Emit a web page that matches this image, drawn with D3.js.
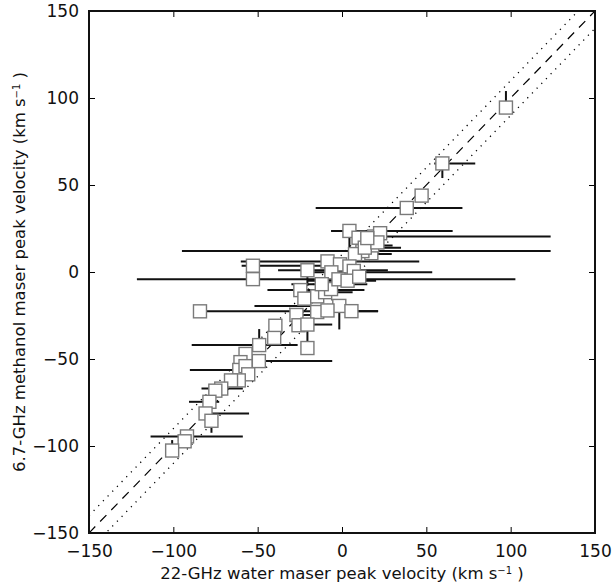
<!DOCTYPE html>
<html>
<head>
<meta charset="utf-8">
<script src="https://cdn.jsdelivr.net/npm/d3@7"></script>
<style>
  body { margin: 0; background: #fff; }
  text { font-family: "DejaVu Sans", sans-serif; }
</style>
</head>
<body>
<svg id="chart" width="615" height="583"></svg>
<script>
// 22-GHz water peak velocity (x) and 6.7-GHz methanol peak velocity (y), km/s
var waterVel = [97.2, 59.5, 47.2, 38.4, 4.4, 9.8, 19.0, 22.6, 17.4, 12.1, 7.7, -8.6, -1.2, 4.4, 7.0,
  -52.8, -52.8, -20.5, -24.7, -22.3, -14.7, -10.0, -6.5, -6.3, -2.1, 3.3, 10.2, -1.6, -14.7, -8.6,
  5.6, -84.2, -27.0, -25.8, -20.5, -39.5, -40.2, -20.5, -49.1, -49.3, -57.2, -60.2, -60.9, -57.2,
  -55.6, -61.2, -65.8, -71.6, -75.1, -78.6, -80.9, -77.4, -91.9, -93.3, -100.7, 17.9, 13.5, 21.0, 15.0, -12.0];
var methVel = [94.5, 62.4, 43.9, 36.8, 23.6, 19.7, 20.4, 22.3, 10.8, 12.0, 10.3, 6.1, 4.4, 3.2, 0.6,
  3.6, -4.1, 1.0, -10.4, -15.3, -14.0, -11.6, -9.8, -0.2, -4.2, -5.0, -2.7, -19.5, -23.0, -22.1,
  -22.5, -22.6, -24.7, -30.6, -30.2, -30.9, -37.9, -43.7, -42.0, -51.2, -47.1, -51.8, -56.3, -54.1,
  -58.8, -62.3, -62.3, -67.0, -68.2, -74.6, -81.3, -85.5, -94.5, -97.3, -102.6, 15.3, 14.0, 17.0, 19.5, -7.0];
// error bar ends (absolute velocities); equal to the value where no bar is drawn
var waterLo = [97.2, 54.7, 47.2, -15.6, -6.5, 9.8, 5.0, 22.6, 17.4, -94.9, 5.6, -60.0, -1.2, 4.4, 7.0,
  -59.5, -121.6, -37.9, -44.2, -22.3, -14.7, -28.6, -6.5, -21.6, -2.1, -20.5, 10.2, -51.9, -14.7, -8.6,
  5.6, -87.4, -29.8, -25.8, -23.3, -39.5, -40.2, -20.5, -89.1, -54.2, -57.2, -60.2, -90.2, -57.2,
  -55.6, -61.2, -65.8, -83.3, -75.1, -90.7, -83.7, -77.4, -113.5, -93.3, -100.7, 10.0, 8.0, 18.0, 12.0, -30.0];
var waterHi = [97.2, 79.0, 47.2, 71.4, 65.6, 9.8, 123.7, 22.6, 17.4, 123.7, 29.5, 45.8, -1.2, 4.4, 7.0,
  6.3, 102.8, 27.2, 13.3, -22.3, -14.7, 6.3, -6.5, 53.5, -2.1, 20.2, 10.2, 1.6, -14.7, -8.6,
  21.4, 21.4, -7.7, -25.8, -5.8, -39.5, -40.2, -20.5, -26.3, -5.8, -57.2, -60.2, -53.0, -57.2,
  -55.6, -61.2, -65.8, -58.8, -75.1, -72.8, -55.1, -77.4, -58.8, -93.3, -100.7, 30.0, 35.0, 23.0, 20.0, 15.0];
var methLo = [94.5, 54.0, 43.9, 36.8, 11.0, 19.7, 20.4, 22.3, 10.8, 12.0, 10.3, 6.1, 4.4, 3.2, 0.6,
  3.6, -4.1, -8.0, -10.4, -15.3, -14.0, -11.6, -9.8, -0.2, -4.2, -5.0, -2.7, -33.0, -23.0, -22.1,
  -22.5, -22.6, -24.7, -30.6, -41.0, -30.9, -37.9, -43.7, -42.0, -51.2, -47.1, -51.8, -56.3, -54.1,
  -58.8, -62.3, -62.3, -67.0, -68.2, -74.6, -81.3, -92.4, -94.5, -97.3, -102.6, 15.3, 14.0, 17.0, 19.5, -7.0];
var methHi = [104.0, 62.4, 43.9, 36.8, 23.6, 19.7, 20.4, 22.3, 10.8, 12.0, 10.3, 6.1, 4.4, 3.2, 0.6,
  3.6, -4.1, 1.0, -10.4, -15.3, -14.0, -11.6, -9.8, -0.2, -4.2, -5.0, -2.7, -19.5, -23.0, -22.1,
  -22.5, -22.6, -24.7, -30.6, -30.2, -30.9, -37.9, -43.7, -32.8, -51.2, -47.1, -51.8, -56.3, -54.1,
  -58.8, -62.3, -62.3, -67.0, -68.2, -74.6, -81.3, -85.5, -94.5, -97.3, -96.6, 15.3, 14.0, 17.0, 19.5, -7.0];
var tickVals = [-150, -100, -50, 0, 50, 100, 150];
var lineOffsets = [0, -10, 10]; // y = x and y = x +/- 10 km/s

var svg = d3.select("#chart");
var margin = { top: 11, left: 89 };

var x = d3.scaleLinear().domain([-150, 150]).range([margin.left, 595]);
var y = d3.scaleLinear().domain([-150, 150]).range([533, margin.top]);

svg.append("defs").append("clipPath").attr("id", "clip")
  .append("rect")
  .attr("x", x(-150)).attr("y", y(150))
  .attr("width", x(150) - x(-150)).attr("height", y(-150) - y(150));

var plot = svg.append("g").attr("clip-path", "url(#clip)");

// reference lines
lineOffsets.forEach(function (off) {
  plot.append("line")
    .attr("x1", x(-150)).attr("y1", y(-150 + off))
    .attr("x2", x(150)).attr("y2", y(150 + off))
    .attr("stroke", "#000")
    .attr("stroke-width", off === 0 ? 1.2 : 1.3)
    .attr("stroke-dasharray", off === 0 ? "9,7" : "1.2,5.5");
});

var data = waterVel.map(function (v, i) {
  return { x: v, y: methVel[i], xlo: waterLo[i], xhi: waterHi[i], ylo: methLo[i], yhi: methHi[i] };
});

// error bars
plot.append("g").selectAll("line")
  .data(data.filter(function (d) { return d.xhi > d.xlo; }))
  .enter().append("line")
  .attr("x1", function (d) { return x(d.xlo); })
  .attr("x2", function (d) { return x(d.xhi); })
  .attr("y1", function (d) { return y(d.y); })
  .attr("y2", function (d) { return y(d.y); })
  .attr("stroke", "#111").attr("stroke-width", 2);

plot.append("g").selectAll("line")
  .data(data.filter(function (d) { return d.yhi > d.ylo; }))
  .enter().append("line")
  .attr("x1", function (d) { return x(d.x); })
  .attr("x2", function (d) { return x(d.x); })
  .attr("y1", function (d) { return y(d.ylo); })
  .attr("y2", function (d) { return y(d.yhi); })
  .attr("stroke", "#111").attr("stroke-width", 2);

// markers
var s = 13;
plot.append("g").selectAll("rect")
  .data(data)
  .enter().append("rect")
  .attr("x", function (d) { return x(d.x) - s / 2; })
  .attr("y", function (d) { return y(d.y) - s / 2; })
  .attr("width", s).attr("height", s)
  .attr("fill", "#fff")
  .attr("stroke", "#7a7a7a")
  .attr("stroke-width", 1.4);

// axes with inward ticks on all four sides
var fmt = function (d) { return d < 0 ? "\u2212" + Math.abs(d) : d; };
function styleAxis(g) {
  g.select(".domain").remove();
  g.selectAll("line").attr("stroke", "#000").attr("stroke-width", 1);
  g.selectAll("text").attr("font-size", 17).attr("fill", "#111");
}
svg.append("g").attr("transform", "translate(0," + y(-150) + ")")
  .call(d3.axisBottom(x).tickValues(tickVals).tickFormat(fmt).tickSizeInner(-6).tickPadding(12))
  .call(styleAxis);
svg.append("g").attr("transform", "translate(" + x(-150) + ",0)")
  .call(d3.axisLeft(y).tickValues(tickVals).tickFormat(fmt).tickSizeInner(-6).tickPadding(10))
  .call(styleAxis);
svg.append("g").attr("transform", "translate(0," + y(150) + ")")
  .call(d3.axisTop(x).tickValues(tickVals).tickFormat("").tickSizeInner(-6))
  .call(styleAxis);
svg.append("g").attr("transform", "translate(" + x(150) + ",0)")
  .call(d3.axisRight(y).tickValues(tickVals).tickFormat("").tickSizeInner(-6))
  .call(styleAxis);

svg.append("rect")
  .attr("x", x(-150)).attr("y", y(150))
  .attr("width", x(150) - x(-150)).attr("height", y(-150) - y(150))
  .attr("fill", "none").attr("stroke", "#111").attr("stroke-width", 2);

// axis titles
var xt = svg.append("text")
  .attr("x", (x(-150) + x(150)) / 2).attr("y", 579)
  .attr("text-anchor", "middle").attr("font-size", 16.5).attr("fill", "#111");
xt.append("tspan").text("22-GHz water maser peak velocity (km s");
xt.append("tspan").attr("dy", -5.5).attr("font-size", 10).text("\u22121");
xt.append("tspan").attr("dy", 5.5).text(" )");

var yt = svg.append("text")
  .attr("transform", "translate(25," + ((y(150) + y(-150)) / 2) + ") rotate(-90)")
  .attr("text-anchor", "middle").attr("font-size", 16.5).attr("fill", "#111");
yt.append("tspan").text("6.7-GHz methanol maser peak velocity (km s");
yt.append("tspan").attr("dy", -5.5).attr("font-size", 10).text("\u22121");
yt.append("tspan").attr("dy", 5.5).text(" )");
</script>
</body>
</html>
